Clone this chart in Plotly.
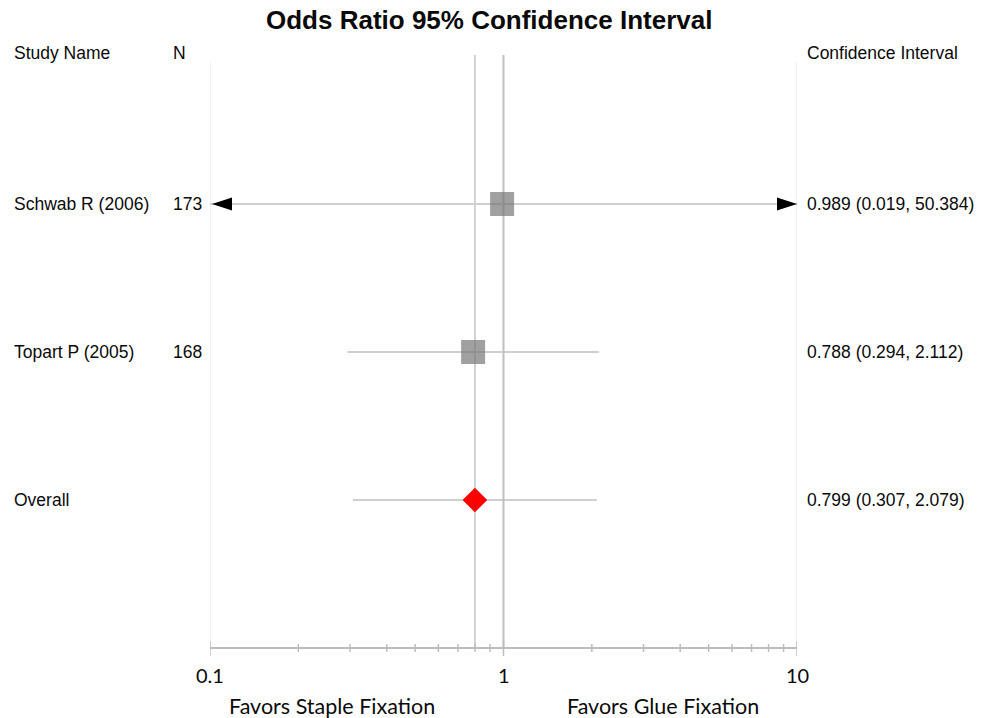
import numpy as np
import plotly.graph_objects as go

# ---------------- data ----------------
title = "Odds Ratio 95% Confidence Interval"
header_study = "Study Name"
header_n = "N"
header_ci = "Confidence Interval"
studies = ["Schwab R (2006)", "Topart P (2005)"]
n_values = [173, 168]
odds = [0.989, 0.788]
ci_low = [0.019, 0.294]
ci_high = [50.384, 2.112]
overall_label = "Overall"
overall_or = 0.799
overall_low = 0.307
overall_high = 2.079
axis_min, axis_max = 0.1, 10
tick_vals = [0.1, 1, 10]
tick_text = ["0.1", "1", "10"]
minor_vals = [0.2, 0.3, 0.4, 0.5, 0.6, 0.7, 0.8, 0.9, 2, 3, 4, 5, 6, 7, 8, 9]
favors_left = "Favors Staple Fixation"
favors_right = "Favors Glue Fixation"

# ---------------- layout helpers ----------------
W, H = 987, 718
L_PX, R_PX = 210, 797
ROW0_PX, ROW_STEP = 56, 148


def px_to_paper(px):
    return (px - L_PX) / (R_PX - L_PX)


def py_to_row(py):
    return (py - ROW0_PX) / ROW_STEP


study_rows = [1, 2]
overall_row = 3
axis_row = 4

LINE_GREY = "#cfcfcf"
AXIS_GREY = "#bdbdbd"
TXT = "#0a0a0a"
BODY_FONT = "Liberation Sans, Arial, sans-serif"

fig = go.Figure()

# faint frame lines at axis limits
for xv in [axis_min, axis_max]:
    fig.add_trace(go.Scatter(x=[xv, xv], y=[py_to_row(62), axis_row], mode="lines",
                             line=dict(color="#f0f0f0", width=2), hoverinfo="skip", showlegend=False))

# CI lines (clipped to axis range)
all_low = ci_low + [overall_low]
all_high = ci_high + [overall_high]
all_rows = study_rows + [overall_row]
for lo, hi, r in zip(all_low, all_high, all_rows):
    fig.add_trace(go.Scatter(x=[max(lo, axis_min), min(hi, axis_max)], y=[r, r], mode="lines",
                             line=dict(color=LINE_GREY, width=2), hoverinfo="skip", showlegend=False))

# vertical reference lines: null (1) and overall estimate
fig.add_trace(go.Scatter(x=[1, 1], y=[py_to_row(55), axis_row], mode="lines",
                         line=dict(color="#c0c0c0", width=2), hoverinfo="skip", showlegend=False))
fig.add_trace(go.Scatter(x=[overall_or, overall_or], y=[py_to_row(55), axis_row], mode="lines",
                         line=dict(color="#d2d2d2", width=2), hoverinfo="skip", showlegend=False))

# axis line with crossing ticks
fig.add_trace(go.Scatter(x=[axis_min, axis_max], y=[axis_row, axis_row], mode="lines",
                         line=dict(color=AXIS_GREY, width=2), hoverinfo="skip", showlegend=False))
tx, ty = [], []
for v in tick_vals:
    tx += [v, v, None]
    ty += [axis_row - 7 / ROW_STEP, axis_row + 8 / ROW_STEP, None]
for v in minor_vals:
    tx += [v, v, None]
    ty += [axis_row - 4 / ROW_STEP, axis_row + 4 / ROW_STEP, None]
fig.add_trace(go.Scatter(x=tx, y=ty, mode="lines", line=dict(color=AXIS_GREY, width=1.5),
                         hoverinfo="skip", showlegend=False))

# study squares
fig.add_trace(go.Scatter(x=odds, y=study_rows, mode="markers",
                         marker=dict(symbol="square", size=24, color="rgba(115,115,115,0.68)",
                                     line=dict(width=0)),
                         hoverinfo="skip", showlegend=False))
# overall diamond
fig.add_trace(go.Scatter(x=[overall_or], y=[overall_row], mode="markers",
                         marker=dict(symbol="diamond", size=19, color="#ff0000", line=dict(width=0)),
                         hoverinfo="skip", showlegend=False))

# arrowheads for CIs beyond the axis range (anchored at the plot edges)
shapes = []
for lo, hi, r in zip(all_low, all_high, all_rows):
    if lo < axis_min:
        shapes.append(dict(type="path", xref="paper", yref="y", xsizemode="pixel", ysizemode="pixel",
                           xanchor=0, yanchor=r,
                           path="M 2,0 L 22,-6.5 L 22,6.5 Z", fillcolor="#000000", line=dict(width=0)))
    if hi > axis_max:
        shapes.append(dict(type="path", xref="paper", yref="y", xsizemode="pixel", ysizemode="pixel",
                           xanchor=1, yanchor=r,
                           path="M 0,0 L -20,-6.5 L -20,6.5 Z", fillcolor="#000000", line=dict(width=0)))

ann = []


def text(x, y, s, size=17.5, anchor="left", xref="paper", font=BODY_FONT, color=TXT):
    ann.append(dict(x=x, y=y, xref=xref, yref="y", text=s, showarrow=False, xanchor=anchor,
                    yanchor="middle", font=dict(family=font, size=size, color=color)))


# title
text(px_to_paper(489), py_to_row(20), "<b>" + title + "</b>", size=26, anchor="center")
# headers
hdr_row = py_to_row(53)
text(px_to_paper(12), hdr_row, header_study)
text(px_to_paper(171), hdr_row, header_n)
text(px_to_paper(805), hdr_row, header_ci)
# rows
for name, nn, o, lo, hi, r in zip(studies, n_values, odds, ci_low, ci_high, study_rows):
    text(px_to_paper(12), r, name)
    text(px_to_paper(171), r, str(nn))
    text(px_to_paper(805), r, f"{o:.3f} ({lo:.3f}, {hi:.3f})")
text(px_to_paper(12), overall_row, overall_label)
text(px_to_paper(805), overall_row, f"{overall_or:.3f} ({overall_low:.3f}, {overall_high:.3f})")
# tick labels
for v, t in zip(tick_vals, tick_text):
    text(np.log10(v), py_to_row(675), t, size=20, anchor="center", xref="x", font="Lato, sans-serif")
# favors labels
text(px_to_paper(332), py_to_row(706), favors_left, size=21.5, anchor="center", font="Lato, sans-serif")
text(px_to_paper(663), py_to_row(706), favors_right, size=21.5, anchor="center", font="Lato, sans-serif")

fig.update_layout(
    width=W, height=H,
    margin=dict(l=L_PX, r=W - R_PX, t=0, b=0),
    plot_bgcolor="white", paper_bgcolor="white",
    xaxis=dict(type="log", range=[np.log10(axis_min), np.log10(axis_max)], visible=False, fixedrange=True),
    yaxis=dict(range=[py_to_row(H), py_to_row(0)], visible=False, fixedrange=True),
    annotations=ann, shapes=shapes, showlegend=False,
)

fig.write_html("out.html", config={"displayModeBar": False},
               post_script="document.body.style.margin='0';document.body.style.overflow='hidden';")
